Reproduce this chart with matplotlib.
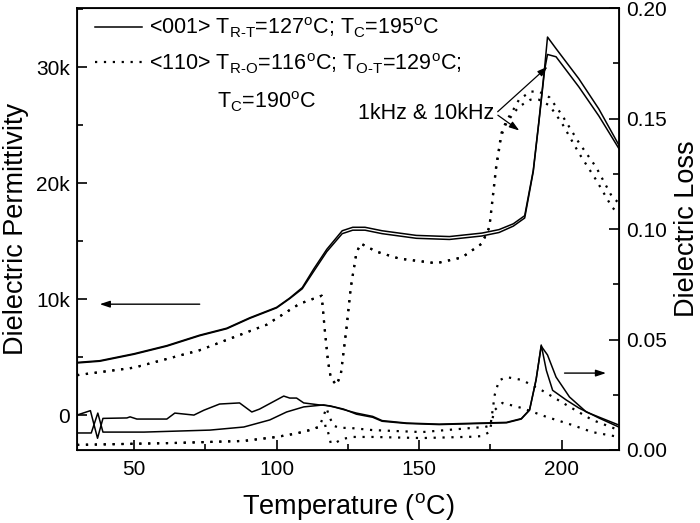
#dielectric permittivity and loss vs temperature for <001> and <110> crystals
#values
import matplotlib
matplotlib.use("Agg")
import matplotlib.pyplot as plt
from matplotlib.ticker import MultipleLocator, FuncFormatter

plt.rcParams["font.family"] = ["Liberation Sans", "DejaVu Sans"]
plt.rcParams["mathtext.fontset"] = "custom"
plt.rcParams["mathtext.rm"] = "Liberation Sans"
plt.rcParams["mathtext.it"] = "Liberation Sans:italic"
plt.rcParams["mathtext.bf"] = "Liberation Sans:bold"

#<001> permittivity, 1kHz and 10kHz
t_eps001 = [30, 38, 50, 61.5, 73, 82.5, 90.6, 100, 104.6, 109, 113, 117.6, 123, 126.7, 131,
            137, 149, 160.6, 172, 178, 183, 187, 190, 192, 194, 195, 198, 206, 213, 220]
eps001_1k = [4550, 4700, 5300, 6000, 6900, 7500, 8400, 9300, 10100, 11000, 12600, 14300, 15900, 16200, 16200,
             15900, 15500, 15400, 15700, 16000, 16500, 17200, 21100, 25400, 30000, 32600, 31600, 29000, 26400, 23300]
eps001_10k = [4500, 4650, 5250, 5950, 6850, 7450, 8350, 9250, 10050, 10900, 12400, 14100, 15650, 15950, 15950,
              15650, 15250, 15150, 15450, 15750, 16300, 17000, 21000, 25300, 29800, 31100, 30900, 28300, 25800, 23000]

#<110> permittivity, 1kHz and 10kHz
t_eps110 = [30, 50, 73, 96.5, 108, 115.8, 116.8, 118, 119, 121, 122.5, 124.5, 126, 128, 129.5,
            135, 143, 156, 165, 172, 174.6, 177, 178.8, 180.6, 182.7, 185, 189, 192, 195.7,
            200, 206, 212, 217.7, 220]
eps110_1k = [3450, 4100, 5600, 7800, 9600, 10300, 7600, 4700, 3200, 2600, 3500, 7500, 11000, 14000, 14800,
             14100, 13500, 13100, 13600, 14800, 16200, 21500, 24300, 25400, 26200, 27200, 27900, 27900, 27400,
             25900, 23500, 21400, 18800, 18300]
eps110_10k = [3450, 4100, 5600, 7800, 9600, 10300, 7600, 4700, 3200, 2600, 3500, 7500, 11000, 14000, 14800,
              14100, 13500, 13100, 13600, 14800, 16200, 21300, 24100, 25200, 25900, 26600, 27200, 27200, 26700,
              25200, 22600, 20300, 17900, 17400]

#<001> loss, the two frequencies
t_loss001_a = [30, 34.7, 37.2, 39.1, 47.5, 48.6, 51, 61.5, 64.3, 71, 74.5, 80, 87, 91.3, 94,
               102.5, 104.6, 107, 109.5, 115, 118.6, 123.5, 128, 133.7, 137, 145.6, 157, 168.7,
               180.6, 185.8, 188.7, 191, 192.8, 194.6, 196.8, 201.6, 206, 213, 220]
loss001_a = [0.0158, 0.0178, 0.0053, 0.0143, 0.0145, 0.0150, 0.0140, 0.0140, 0.0167, 0.0158, 0.0180,
             0.0208, 0.0213, 0.0172, 0.0185, 0.0244, 0.0235, 0.0235, 0.0213, 0.0204, 0.0200, 0.0185,
             0.0162, 0.0148, 0.0130, 0.0120, 0.0115, 0.0119, 0.0123, 0.0140, 0.0180, 0.0317, 0.0475,
             0.0360, 0.0270, 0.0226, 0.0190, 0.0145, 0.0104]
t_loss001_b = [30, 35, 37.3, 39.1, 53.5, 76.6, 88.5, 97.6, 103.5, 109.5, 116.5, 120, 128, 133.7, 137,
               145.6, 157, 168.7, 180.6, 185.8, 188.7, 191, 192.8, 195, 198, 202.7, 208.6, 213, 220]
loss001_b = [0.0077, 0.0077, 0.0167, 0.0081, 0.0081, 0.0090, 0.0104, 0.0136, 0.0172, 0.0195, 0.0204,
             0.0195, 0.0167, 0.0152, 0.0133, 0.0122, 0.0117, 0.0121, 0.0125, 0.0142, 0.0182, 0.0320,
             0.0470, 0.0430, 0.0330, 0.0240, 0.0172, 0.0149, 0.0113]

#<110> loss, the two frequencies
t_loss110_a = [30, 65, 88.5, 100, 107, 111.6, 115, 117.5, 118.5, 120, 122, 125.6, 133.7, 151, 168.7,
               173, 175, 176.5, 178, 180.6, 186, 193, 201.6, 210.7, 220]
loss110_a = [0.0023, 0.0032, 0.0041, 0.0059, 0.0075, 0.0090, 0.0105, 0.0190, 0.0150, 0.0110, 0.0100,
             0.0100, 0.0090, 0.0081, 0.0100, 0.0104, 0.0110, 0.0250, 0.0315, 0.0330, 0.0317, 0.0270,
             0.0204, 0.0136, 0.0090]
t_loss110_b = [30, 65, 88.5, 100, 107, 111.6, 115, 117.5, 119, 121, 123, 127, 133.7, 151, 168.7,
               172, 174.6, 176.4, 179.2, 186, 194.6, 203.7, 210.7, 220]
loss110_b = [0.0023, 0.0032, 0.0041, 0.0059, 0.0075, 0.0090, 0.0105, 0.0110, 0.0030, 0.0035, 0.0050,
             0.0059, 0.0059, 0.0054, 0.0060, 0.0063, 0.0081, 0.0180, 0.0213, 0.0190, 0.0150, 0.0113,
             0.0081, 0.0059]

label_001 = r"<001> T$_{\text{R-T}}$=127$^{\mathrm{o}}$C; T$_{\mathrm{C}}$=195$^{\mathrm{o}}$C"
label_110 = r"<110> T$_{\text{R-O}}$=116$^{\mathrm{o}}$C; T$_{\text{O-T}}$=129$^{\mathrm{o}}$C;"
label_110_tc = r"T$_{\mathrm{C}}$=190$^{\mathrm{o}}$C"

solid = dict(color="black", lw=1.1, linestyle="-")
dotted = dict(color="black", lw=1.6, linestyle=(0, (1, 3)))

fig = plt.figure(figsize=(7, 5.23), dpi=100)
ax = fig.add_axes([0.11, 0.1396, 0.774, 0.845])
ax2 = ax.twinx()

#permittivity on the left axis
l1, = ax.plot(t_eps001, eps001_1k, **solid)
ax.plot(t_eps001, eps001_10k, **solid)
l2, = ax.plot(t_eps110, eps110_1k, **dotted)
ax.plot(t_eps110, eps110_10k, **dotted)

#loss on the right axis
ax2.plot(t_loss001_a, loss001_a, **solid)
ax2.plot(t_loss001_b, loss001_b, **solid)
ax2.plot(t_loss110_a, loss110_a, **dotted)
ax2.plot(t_loss110_b, loss110_b, **dotted)

ax.set_xlim(30, 220)
ax.set_ylim(-3000, 35100)
ax2.set_ylim(0, 0.20)

ax.xaxis.set_major_locator(MultipleLocator(50))
ax.xaxis.set_minor_locator(MultipleLocator(25))
ax.yaxis.set_major_locator(MultipleLocator(10000))
ax.yaxis.set_minor_locator(MultipleLocator(5000))
ax.yaxis.set_major_formatter(FuncFormatter(lambda v, p: "0" if v == 0 else f"{int(v/1000)}k"))
ax2.yaxis.set_major_locator(MultipleLocator(0.05))
ax2.yaxis.set_minor_locator(MultipleLocator(0.025))
ax2.yaxis.set_major_formatter(FuncFormatter(lambda v, p: f"{v:.2f}"))

ax.tick_params(which="both", direction="in", top=False, right=False, labelsize=15, width=1.2)
ax.tick_params(which="major", length=7)
ax.tick_params(which="minor", length=4.5)
ax.tick_params(axis="x", which="major", pad=7)
ax.tick_params(axis="y", which="major", pad=5)
ax2.tick_params(which="both", direction="in", labelsize=15, width=1.2)
ax2.tick_params(which="major", length=7, pad=5)
ax2.tick_params(which="minor", length=4.5)
for s in ax.spines.values():
    s.set_linewidth(1.3)

ax.set_xlabel(r"Temperature ($^{\mathrm{o}}$C)", fontsize=19.5, labelpad=9)
ax.set_ylabel("Dielectric Permittivity", fontsize=19.5, labelpad=5)
ax2.set_ylabel("Dielectric Loss", fontsize=19.5, labelpad=5)

#legend in the top left, third line of the <110> label added as text
leg = ax.legend([l1, l2], [label_001, label_110], loc="upper left", bbox_to_anchor=(0.033, 0.982),
                frameon=False, fontsize=15.5, handlelength=2.2, handletextpad=0.33,
                labelspacing=0.5, borderpad=0, borderaxespad=0)
ax.text(0.258, 0.787, label_110_tc, transform=ax.transAxes, fontsize=15.5, va="center", ha="left")

#arrows pointing at the axis each curve set belongs to
ax.annotate("", xy=(37, 9570), xytext=(74, 9570),
            arrowprops=dict(arrowstyle="-|>,head_length=0.6,head_width=0.2", lw=1, color="black"))
ax2.annotate("", xy=(216.5, 0.0348), xytext=(200, 0.0348),
             arrowprops=dict(arrowstyle="-|>,head_length=0.6,head_width=0.2", lw=1, color="black"))

#frequency note with two arrows
ax.text(128.4, 26000, "1kHz & 10kHz", fontsize=15.5, va="center", ha="left")
ax.annotate("", xy=(195.7, 30200), xytext=(176.8, 26000),
            arrowprops=dict(arrowstyle="-|>,head_length=0.6,head_width=0.2", lw=0.9, color="black"))
ax.annotate("", xy=(185.9, 24400), xytext=(176.8, 26000),
            arrowprops=dict(arrowstyle="-|>,head_length=0.6,head_width=0.2", lw=0.9, color="black"))

fig.savefig("out.png", dpi=100)
